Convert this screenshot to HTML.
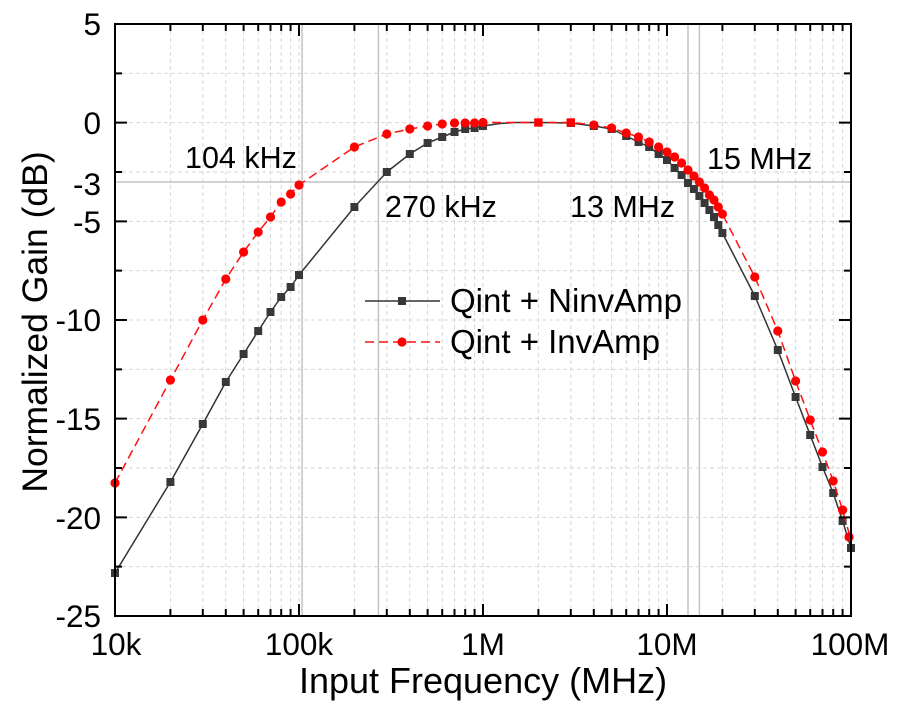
<!DOCTYPE html>
<html>
<head>
<meta charset="utf-8">
<style>
  html,body{margin:0;padding:0;background:#fff;}
  svg{display:block;}
  text{font-family:"Liberation Sans",Arial,sans-serif;fill:#000;}
</style>
</head>
<body>
<svg width="902" height="710" viewBox="0 0 902 710" xmlns="http://www.w3.org/2000/svg">
  <rect x="0" y="0" width="902" height="710" fill="#fff"/>

  <!-- dashed grid -->
  <g stroke="#d6d6d6" stroke-width="1" stroke-dasharray="4 3" fill="none">
    <path d="M170.4 24V616M202.8 24V616M225.8 24V616M243.6 24V616M258.2 24V616M270.5 24V616M281.2 24V616M290.6 24V616
             M299 24V616
             M354.4 24V616M386.8 24V616M409.8 24V616M427.6 24V616M442.2 24V616M454.5 24V616M465.2 24V616M474.6 24V616
             M483 24V616
             M538.4 24V616M570.8 24V616M593.8 24V616M611.6 24V616M626.2 24V616M638.5 24V616M649.2 24V616M658.6 24V616
             M667 24V616
             M722.4 24V616M754.8 24V616M777.8 24V616M795.6 24V616M810.2 24V616M822.5 24V616M833.2 24V616M842.6 24V616"/>
    <path d="M115 73.33H851M115 122.67H851M115 172H851M115 221.33H851M115 270.67H851M115 320H851M115 369.33H851M115 418.67H851M115 468H851M115 517.33H851M115 566.67H851"/>
  </g>

  <!-- solid reference lines -->
  <g stroke="#c4c4c4" stroke-width="1.5" fill="none">
    <path d="M115 182H851"/>
    <path d="M302.1 24V616M378.4 24V616M688 24V616M699.4 24V616"/>
  </g>

  <!-- black series: Qint + NinvAmp -->
  <polyline fill="none" stroke="#333" stroke-width="1.5" stroke-linejoin="round" points="
    115,573 170.4,482 202.8,424 225.8,382 243.6,354 258.2,331 270.5,312 281.2,297 290.6,287 299,275
    354.4,207 386.8,172 409.8,154 427.6,143 442.2,137 454.5,132 465.2,129 474.6,128 483,126
    500,123.5 515.4,122.5 538.4,122.5 570.8,123 593.8,126 611.6,129 626.2,136 638.5,142 649.2,147 658.6,154
    667,160 674.6,168 681.6,175 688,183 693.9,189 699.4,196 704.6,203 709.4,210 714,217 718.3,225 722.4,233
    754.8,296 777.8,350 795.6,397 810.2,435 822.5,467 833.2,493 842.6,521 851,548"/>
  <g fill="#383838">
    <rect x="111" y="569" width="8" height="8"/><rect x="166.4" y="478" width="8" height="8"/>
    <rect x="198.8" y="420" width="8" height="8"/><rect x="221.8" y="378" width="8" height="8"/>
    <rect x="239.6" y="350" width="8" height="8"/><rect x="254.2" y="327" width="8" height="8"/>
    <rect x="266.5" y="308" width="8" height="8"/><rect x="277.2" y="293" width="8" height="8"/>
    <rect x="286.6" y="283" width="8" height="8"/><rect x="295" y="271" width="8" height="8"/>
    <rect x="350.4" y="203" width="8" height="8"/><rect x="382.8" y="168" width="8" height="8"/>
    <rect x="405.8" y="150" width="8" height="8"/><rect x="423.6" y="139" width="8" height="8"/>
    <rect x="438.2" y="133" width="8" height="8"/><rect x="450.5" y="128" width="8" height="8"/>
    <rect x="461.2" y="125" width="8" height="8"/><rect x="470.6" y="124" width="8" height="8"/>
    <rect x="479" y="122" width="8" height="8"/><rect x="534.4" y="118.5" width="8" height="8"/>
    <rect x="566.8" y="119" width="8" height="8"/><rect x="589.8" y="122" width="8" height="8"/>
    <rect x="607.6" y="125" width="8" height="8"/><rect x="622.2" y="132" width="8" height="8"/>
    <rect x="634.5" y="138" width="8" height="8"/><rect x="645.2" y="143" width="8" height="8"/>
    <rect x="654.6" y="150" width="8" height="8"/><rect x="663" y="156" width="8" height="8"/>
    <rect x="670.6" y="164" width="8" height="8"/><rect x="677.6" y="171" width="8" height="8"/>
    <rect x="684" y="179" width="8" height="8"/><rect x="689.9" y="185" width="8" height="8"/>
    <rect x="695.4" y="192" width="8" height="8"/><rect x="700.6" y="199" width="8" height="8"/>
    <rect x="705.4" y="206" width="8" height="8"/><rect x="710" y="213" width="8" height="8"/>
    <rect x="714.3" y="221" width="8" height="8"/><rect x="718.4" y="229" width="8" height="8"/>
    <rect x="750.8" y="292" width="8" height="8"/><rect x="773.8" y="346" width="8" height="8"/>
    <rect x="791.6" y="393" width="8" height="8"/><rect x="806.2" y="431" width="8" height="8"/>
    <rect x="818.5" y="463" width="8" height="8"/><rect x="829.2" y="489" width="8" height="8"/>
    <rect x="838.6" y="517" width="8" height="8"/><rect x="847" y="544" width="8" height="8"/>
  </g>

  <!-- red series: Qint + InvAmp -->
  <polyline fill="none" stroke="#ff1010" stroke-width="1.5" stroke-dasharray="9 5" stroke-linejoin="round" points="
    115,483 170.4,380 202.8,320 225.8,279 243.6,252 258.2,232 270.5,217 281.2,202 290.6,194 299,185
    354.4,147 386.8,134 409.8,129 427.6,126 442.2,124 454.5,123 465.2,123 474.6,123 483,122.5
    538.4,122.5 570.8,122.5 593.8,125 611.6,128 626.2,133 638.5,137 649.2,142 658.6,147
    667,152 674.6,157 681.6,163 688,170 693.9,176 699.4,182 704.6,188 709.4,195 714,200 718.3,207 722.4,214
    754.8,277 777.8,331 795.6,381 810.2,420 822.5,452 833.2,481 842.6,510 851,540"/>
  <g fill="#ff0000">
    <circle cx="115" cy="483" r="4.6"/><circle cx="170.4" cy="380" r="4.6"/>
    <circle cx="202.8" cy="320" r="4.6"/><circle cx="225.8" cy="279" r="4.6"/>
    <circle cx="243.6" cy="252" r="4.6"/><circle cx="258.2" cy="232" r="4.6"/>
    <circle cx="270.5" cy="217" r="4.6"/><circle cx="281.2" cy="202" r="4.6"/>
    <circle cx="290.6" cy="194" r="4.6"/><circle cx="299" cy="185" r="4.6"/>
    <circle cx="354.4" cy="147" r="4.6"/><circle cx="386.8" cy="134" r="4.6"/>
    <circle cx="409.8" cy="129" r="4.6"/><circle cx="427.6" cy="126" r="4.6"/>
    <circle cx="442.2" cy="124" r="4.6"/><circle cx="454.5" cy="123" r="4.6"/>
    <circle cx="465.2" cy="123" r="4.6"/><circle cx="474.6" cy="123" r="4.6"/>
    <circle cx="483" cy="122.5" r="4.6"/>
    <rect x="534.2" y="118.3" width="8.4" height="8.4"/><rect x="566.6" y="118.3" width="8.4" height="8.4"/>
    <circle cx="593.8" cy="125" r="4.6"/><circle cx="611.6" cy="128" r="4.6"/>
    <circle cx="626.2" cy="133" r="4.6"/><circle cx="638.5" cy="137" r="4.6"/>
    <circle cx="649.2" cy="142" r="4.6"/><circle cx="658.6" cy="147" r="4.6"/>
    <circle cx="667" cy="152" r="4.6"/><circle cx="674.6" cy="157" r="4.6"/>
    <circle cx="681.6" cy="163" r="4.6"/><circle cx="688" cy="170" r="4.6"/>
    <circle cx="693.9" cy="176" r="4.6"/><circle cx="699.4" cy="182" r="4.6"/>
    <circle cx="704.6" cy="188" r="4.6"/><circle cx="709.4" cy="195" r="4.6"/>
    <circle cx="714" cy="200" r="4.6"/><circle cx="718.3" cy="207" r="4.6"/>
    <circle cx="722.4" cy="214" r="4.6"/>
    <circle cx="754.8" cy="277" r="4.6"/><circle cx="777.8" cy="331" r="4.6"/>
    <circle cx="795.6" cy="381" r="4.6"/><circle cx="810.2" cy="420" r="4.6"/>
    <circle cx="822.5" cy="452" r="4.6"/><circle cx="833.2" cy="481" r="4.6"/>
    <circle cx="842.6" cy="510" r="4.6"/><circle cx="849" cy="537" r="4.6"/>
  </g>

  <!-- frame -->
  <rect x="115" y="24" width="736" height="592" fill="none" stroke="#000" stroke-width="2"/>

  <!-- ticks -->
  <g stroke="#000" stroke-width="2" fill="none">
    <path d="M299 616v-12M483 616v-12M667 616v-12M299 24v12M483 24v12M667 24v12"/>
    <path d="M170.4 616v-7M202.8 616v-7M225.8 616v-7M243.6 616v-7M258.2 616v-7M270.5 616v-7M281.2 616v-7M290.6 616v-7
             M354.4 616v-7M386.8 616v-7M409.8 616v-7M427.6 616v-7M442.2 616v-7M454.5 616v-7M465.2 616v-7M474.6 616v-7
             M538.4 616v-7M570.8 616v-7M593.8 616v-7M611.6 616v-7M626.2 616v-7M638.5 616v-7M649.2 616v-7M658.6 616v-7
             M722.4 616v-7M754.8 616v-7M777.8 616v-7M795.6 616v-7M810.2 616v-7M822.5 616v-7M833.2 616v-7M842.6 616v-7"/>
    <path d="M170.4 24v7M202.8 24v7M225.8 24v7M243.6 24v7M258.2 24v7M270.5 24v7M281.2 24v7M290.6 24v7
             M354.4 24v7M386.8 24v7M409.8 24v7M427.6 24v7M442.2 24v7M454.5 24v7M465.2 24v7M474.6 24v7
             M538.4 24v7M570.8 24v7M593.8 24v7M611.6 24v7M626.2 24v7M638.5 24v7M649.2 24v7M658.6 24v7
             M722.4 24v7M754.8 24v7M777.8 24v7M795.6 24v7M810.2 24v7M822.5 24v7M833.2 24v7M842.6 24v7"/>
    <path d="M115 122.67h12M115 221.33h12M115 320h12M115 418.67h12M115 517.33h12
             M851 122.67h-12M851 221.33h-12M851 320h-12M851 418.67h-12M851 517.33h-12"/>
    <path d="M115 73.33h7M115 172h7M115 270.67h7M115 369.33h7M115 468h7M115 566.67h7
             M851 73.33h-7M851 172h-7M851 270.67h-7M851 369.33h-7M851 468h-7M851 566.67h-7"/>
  </g>

  <!-- y tick labels -->
  <g font-size="31.5" text-anchor="end">
    <text x="101" y="35">5</text>
    <text x="101" y="134">0</text>
    <text x="101" y="195">-3</text>
    <text x="101" y="233">-5</text>
    <text x="101" y="331">-10</text>
    <text x="101" y="430">-15</text>
    <text x="101" y="529">-20</text>
    <text x="101" y="627">-25</text>
  </g>

  <!-- x tick labels -->
  <g font-size="31.5" text-anchor="middle">
    <text x="116" y="655">10k</text>
    <text x="299" y="655">100k</text>
    <text x="483" y="655">1M</text>
    <text x="667" y="655">10M</text>
    <text x="850" y="655">100M</text>
  </g>

  <!-- axis titles -->
  <text x="483" y="693" font-size="36" text-anchor="middle">Input Frequency (MHz)</text>
  <text transform="translate(47,322) rotate(-90)" font-size="35.5" text-anchor="middle">Normalized Gain (dB)</text>

  <!-- annotations -->
  <g font-size="30.5">
    <text x="185" y="168">104 kHz</text>
    <text x="385" y="217">270 kHz</text>
    <text x="570" y="217">13 MHz</text>
    <text x="707" y="169">15 MHz</text>
  </g>

  <!-- legend -->
  <line x1="365" y1="301" x2="440" y2="301" stroke="#333" stroke-width="1.5"/>
  <rect x="398" y="297" width="8" height="8" fill="#383838"/>
  <line x1="365" y1="342" x2="440" y2="342" stroke="#ff1010" stroke-width="1.5" stroke-dasharray="9 5"/>
  <circle cx="402" cy="342" r="4.6" fill="#ff0000"/>
  <g font-size="33">
    <text x="450" y="312">Qint + NinvAmp</text>
    <text x="450" y="353">Qint + InvAmp</text>
  </g>
</svg>
</body>
</html>
